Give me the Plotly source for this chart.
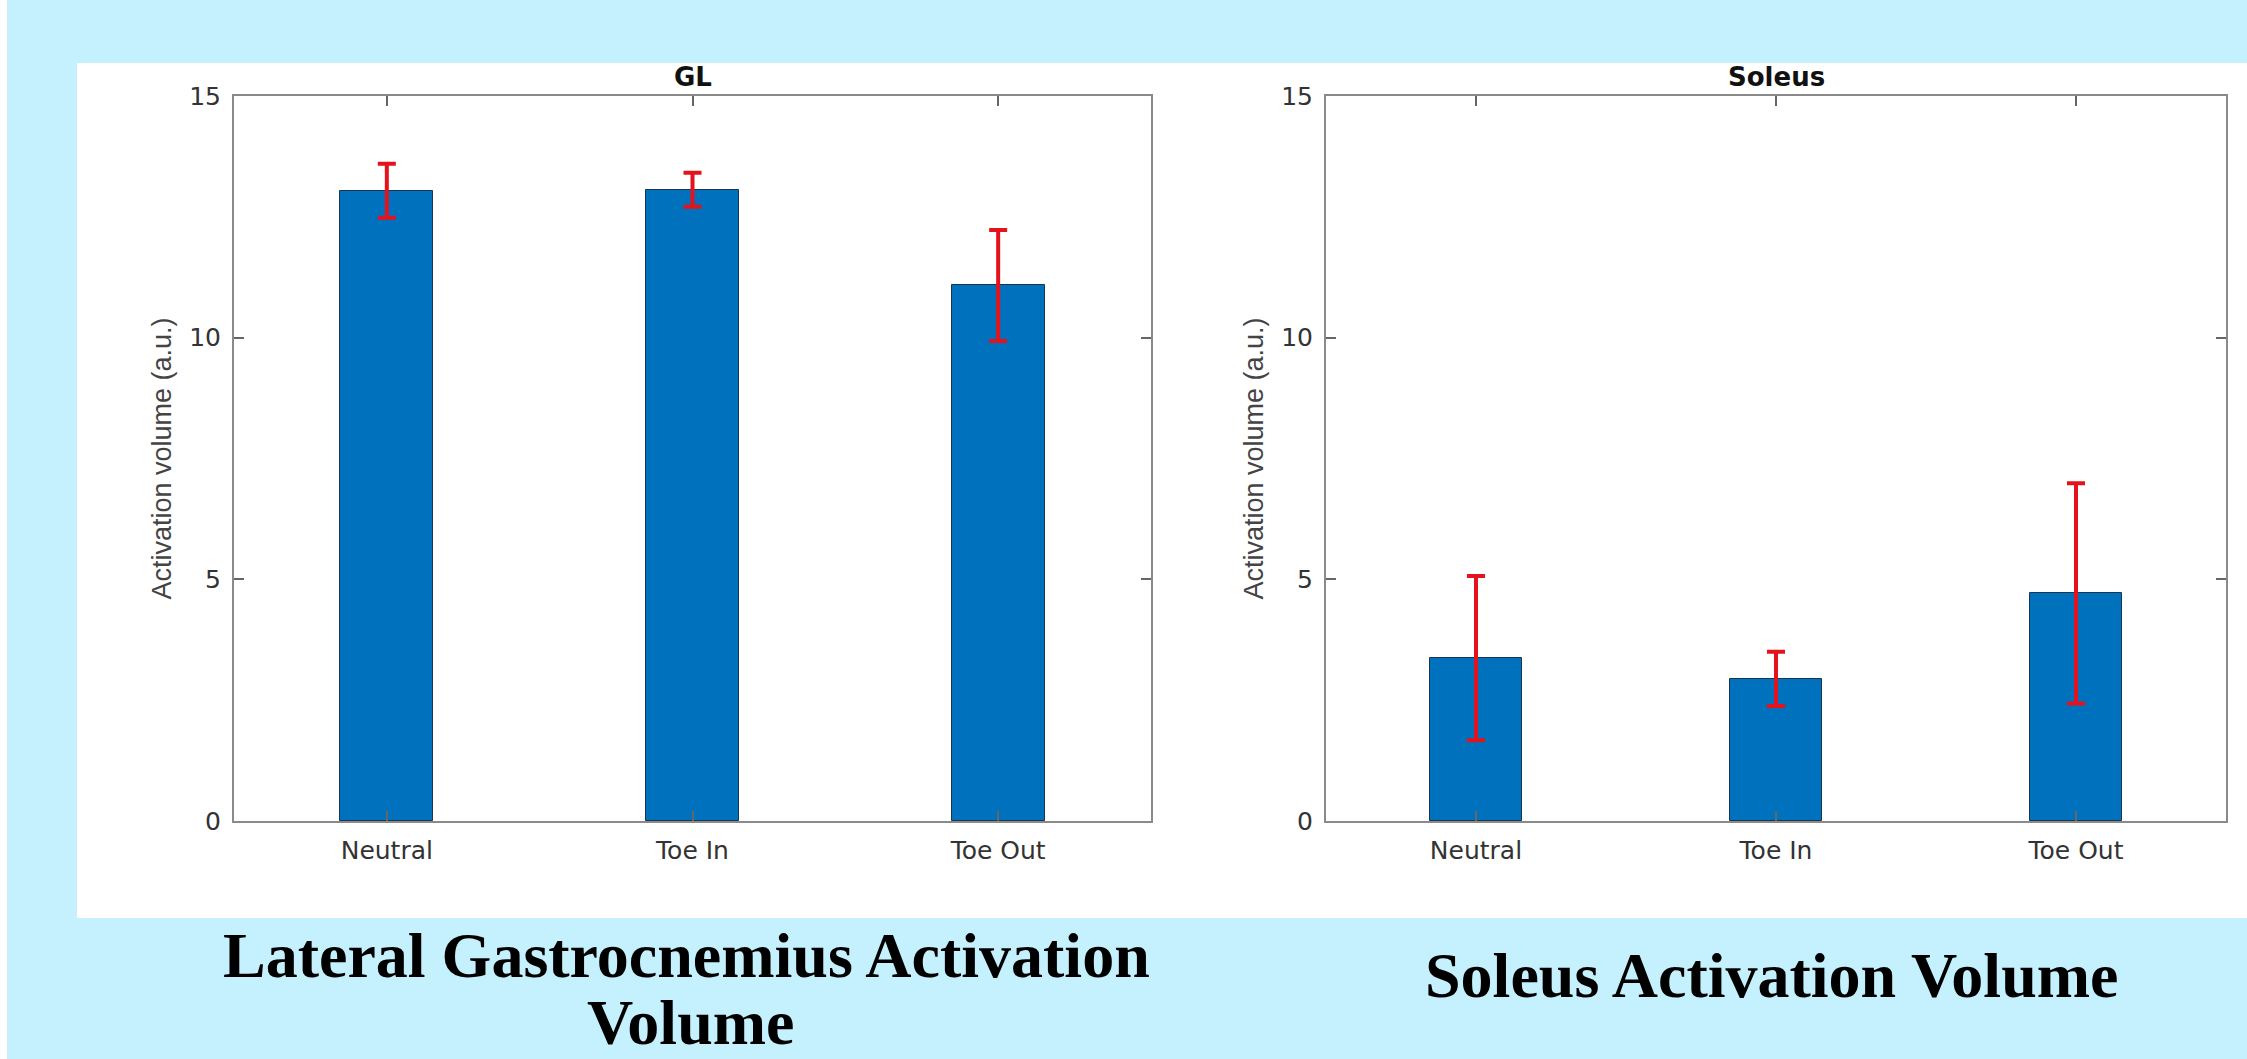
import plotly.graph_objects as go

# ---- data ----
categories = ["Neutral", "Toe In", "Toe Out"]
gl_mean = [13.04, 13.06, 11.08]
gl_err = [0.56, 0.35, 1.15]
soleus_mean = [3.37, 2.94, 4.71]
soleus_err = [1.70, 0.56, 2.28]
y_ticks = [0, 5, 10, 15]
panel_titles = ["GL", "Soleus"]
y_label = "Activation volume (a.u.)"
caption_left_1 = "Lateral Gastrocnemius Activation"
caption_left_2 = "Volume"
caption_right = "Soleus Activation Volume"

W, H = 2247, 1059
BG = "#C5F1FE"
BAR = "#0072BD"
ERR = "#E3121C"
FRAME = "#8a8a8a"
TXT = "#333333"


def px_x(p):
    return p / W


def px_y(p):
    return 1 - p / H


fig = go.Figure()

for i, (m, e) in enumerate([(gl_mean, gl_err), (soleus_mean, soleus_err)]):
    suffix = "" if i == 0 else str(i + 1)
    fig.add_trace(go.Bar(
        x=categories, y=m,
        width=0.305,
        marker=dict(color=BAR, line=dict(color="#1b3550", width=1)),
        error_y=dict(type="data", array=e, symmetric=True, color=ERR,
                     thickness=4, width=9),
        xaxis="x" + suffix, yaxis="y" + suffix,
        showlegend=False, hoverinfo="skip",
    ))

ydom = [px_y(821), px_y(96)]
axis_common = dict(
    showline=True, linecolor=FRAME, linewidth=2, mirror="ticks",
    ticks="inside", ticklen=10, tickwidth=1.5, tickcolor="#666666",
    showgrid=False, zeroline=False, automargin=False,
    tickfont=dict(family="DejaVu Sans", size=25, color=TXT),
)

for i, (x0, x1) in enumerate([(234, 1151), (1326, 2226)]):
    suffix = "" if i == 0 else str(i + 1)
    fig.update_layout(**{
        "xaxis" + suffix: dict(
            domain=[px_x(x0), px_x(x1)], anchor="y" + suffix,
            type="category", range=[-0.5, 2.5],
            ticklabelstandoff=6,
            **axis_common,
        ),
        "yaxis" + suffix: dict(
            domain=ydom, anchor="x" + suffix,
            range=[0, 15], tickvals=y_ticks,
            ticklabelstandoff=6,
            title=dict(text=y_label, standoff=10,
                       font=dict(family="Liberation Sans, Arial", size=27, color="#444444")),
            **axis_common,
        ),
    })
    fig.add_annotation(
        text="<b>%s</b>" % panel_titles[i], showarrow=False,
        xref="paper", yref="paper",
        x=px_x((x0 + x1) / 2), y=px_y(77), xanchor="center", yanchor="middle",
        font=dict(family="DejaVu Sans", size=26, color="#111111"),
    )

# captions
cap_font = dict(family="Liberation Serif, Times New Roman", size=64, color="#000000")
fig.add_annotation(text="<b>%s</b>" % caption_left_1, showarrow=False,
                   xref="paper", yref="paper", x=px_x(686), y=px_y(955),
                   xanchor="center", yanchor="middle", font=cap_font)
fig.add_annotation(text="<b>%s</b>" % caption_left_2, showarrow=False,
                   xref="paper", yref="paper", x=px_x(690), y=px_y(1022),
                   xanchor="center", yanchor="middle", font=cap_font)
fig.add_annotation(text="<b>%s</b>" % caption_right, showarrow=False,
                   xref="paper", yref="paper", x=px_x(1771), y=px_y(975),
                   xanchor="center", yanchor="middle", font=cap_font)

# white panel behind the chart, and thin white strip at the left edge
fig.add_shape(type="rect", xref="paper", yref="paper", layer="below",
              x0=px_x(77), x1=1, y0=px_y(918), y1=px_y(63),
              fillcolor="white", line=dict(width=0))
fig.add_shape(type="rect", xref="paper", yref="paper", layer="below",
              x0=0, x1=px_x(7), y0=0, y1=1,
              fillcolor="white", line=dict(width=0))

fig.update_layout(
    template="none",
    width=W, height=H, autosize=False,
    margin=dict(l=0, r=0, t=0, b=0, pad=0, autoexpand=False),
    paper_bgcolor=BG, plot_bgcolor="white",
    bargap=0, showlegend=False,
)

post = (
    "document.documentElement.style.margin='0px';"
    "document.body.style.margin='0px';"
    "document.body.style.overflow='hidden';"
    "var d=document.getElementById('{plot_id}');"
    "d.style.position='absolute';d.style.left='0px';d.style.top='0px';"
)
fig.write_html("out.html", post_script=post,
               config={"displayModeBar": False, "responsive": False})
